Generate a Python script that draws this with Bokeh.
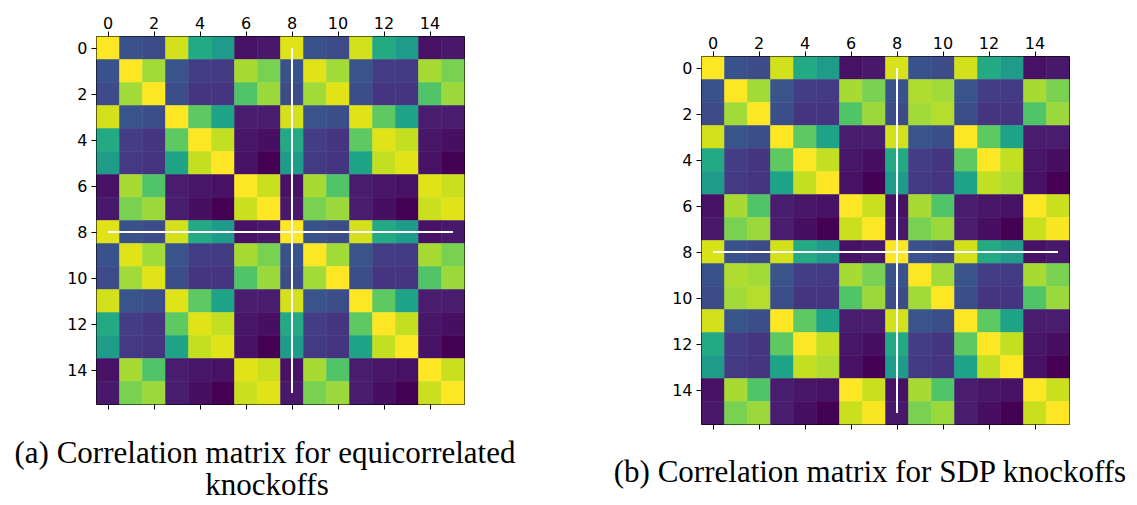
from bokeh.plotting import figure
from bokeh.models import Range1d, LinearAxis, FixedTicker, Label, ColumnDataSource, LinearColorMapper, Spacer
from bokeh.palettes import Viridis256
from bokeh.layouts import row, column
from bokeh.transform import transform
from bokeh.embed import file_html
from bokeh.resources import INLINE

# 8x8 correlation block of the original features
sigma_row0 = [1.00, 0.25, 0.23, 0.93, 0.61, 0.55, 0.05, 0.07]
sigma_row1 = [0.25, 1.00, 0.86, 0.26, 0.18, 0.17, 0.87, 0.80]
sigma_row2 = [0.23, 0.86, 1.00, 0.24, 0.15, 0.15, 0.73, 0.85]
sigma_row3 = [0.93, 0.26, 0.24, 1.00, 0.75, 0.58, 0.08, 0.08]
sigma_row4 = [0.61, 0.18, 0.15, 0.75, 1.00, 0.91, 0.06, 0.04]
sigma_row5 = [0.55, 0.17, 0.15, 0.58, 0.91, 1.00, 0.05, 0.00]
sigma_row6 = [0.05, 0.87, 0.73, 0.08, 0.06, 0.05, 1.00, 0.92]
sigma_row7 = [0.07, 0.80, 0.85, 0.08, 0.04, 0.00, 0.92, 1.00]
sigma = [sigma_row0, sigma_row1, sigma_row2, sigma_row3,
         sigma_row4, sigma_row5, sigma_row6, sigma_row7]

# diagonal of the feature/knockoff cross block
cross_diag_equi = [0.95, 0.95, 0.95, 0.95, 0.95, 0.95, 0.95, 0.95]
cross_diag_sdp = [0.94, 0.88, 0.89, 1.00, 1.00, 0.88, 1.00, 0.99]

ticks = [0, 2, 4, 6, 8, 10, 12, 14]
vline_x = [8, 8]
vline_y = [0, 15]
hline_x = [0, 15]
hline_y = [8, 8]

caption_a = ["(a) Correlation matrix for equicorrelated", "knockoffs"]
caption_b = ["(b) Correlation matrix for SDP knockoffs"]


def build_source(cross_diag):
    xs, ys, vs = [], [], []
    for i in range(16):
        for j in range(16):
            a, b = i % 8, j % 8
            if (i // 8) != (j // 8) and a == b:
                v = cross_diag[a]
            else:
                v = sigma[a][b]
            xs.append(j)
            ys.append(i)
            vs.append(v)
    return ColumnDataSource(data=dict(x=xs, y=ys, v=vs))


mapper = LinearColorMapper(palette=Viridis256, low=0.0, high=1.0)


def style_axis(ax, standoff):
    ax.ticker = FixedTicker(ticks=ticks)
    ax.axis_line_color = None
    ax.major_tick_out = 5
    ax.major_tick_in = 0
    ax.minor_tick_out = 0
    ax.minor_tick_in = 0
    ax.major_tick_line_color = "black"
    ax.major_tick_line_width = 1
    ax.major_label_text_font = "DejaVu Sans"
    ax.major_label_text_color = "black"
    ax.major_label_standoff = standoff
    ax.major_label_text_font_size = "16px"


def make_panel(cross_diag, bl, bt, bb, br):
    p = figure(frame_width=368, frame_height=368,
               x_range=Range1d(-0.5, 15.5), y_range=Range1d(15.5, -0.5),
               x_axis_location="above",
               min_border_left=bl, min_border_top=bt,
               min_border_bottom=bb, min_border_right=br,
               output_backend="svg", toolbar_location=None)
    p.grid.visible = False
    p.outline_line_color = "black"
    p.outline_line_width = 1
    p.background_fill_color = "white"
    p.border_fill_color = "white"
    src = build_source(cross_diag)
    p.rect(x="x", y="y", width=1, height=1, source=src,
           fill_color=transform("v", mapper),
           line_color=transform("v", mapper), line_width=0.5)
    p.line(vline_x, vline_y, line_color="white", line_width=2)
    p.line(hline_x, hline_y, line_color="white", line_width=2)
    style_axis(p.xaxis[0], 3)
    style_axis(p.yaxis[0], 4)
    # bottom ticks only (drawn as minor ticks, so no labels)
    bottom = LinearAxis(ticker=FixedTicker(ticks=[], minor_ticks=ticks))
    bottom.axis_line_color = None
    bottom.major_tick_out = 0
    bottom.major_tick_in = 0
    bottom.minor_tick_out = 5
    bottom.minor_tick_in = 0
    bottom.minor_tick_line_color = "black"
    bottom.minor_tick_line_width = 1
    bottom.major_label_standoff = 0
    p.add_layout(bottom, "below")
    return p


pa = make_panel(cross_diag_equi, 96, 36, 30, 104)
pb = make_panel(cross_diag_sdp, 133, 36, 10, 58)

cap = figure(frame_width=1130, frame_height=71,
             x_range=Range1d(0, 1130), y_range=Range1d(71, 0),
             x_axis_location=None, y_axis_location=None,
             min_border=0, output_backend="svg", toolbar_location=None)
cap.grid.visible = False
cap.outline_line_color = None
cap.background_fill_color = "white"
cap.border_fill_color = "white"
for txt, xx, yy in zip(caption_a + caption_b, [264.5, 266.5, 870], [18, 50, 37]):
    cap.add_layout(Label(x=xx, y=yy, text=txt, text_align="center",
                         text_baseline="middle", text_font="Liberation Serif",
                         text_font_size="31px", text_color="black"))

layout = column(row(pa, column(Spacer(height=20, width=10), pb)), cap)
open("out.html", "w").write(file_html(layout, INLINE))
